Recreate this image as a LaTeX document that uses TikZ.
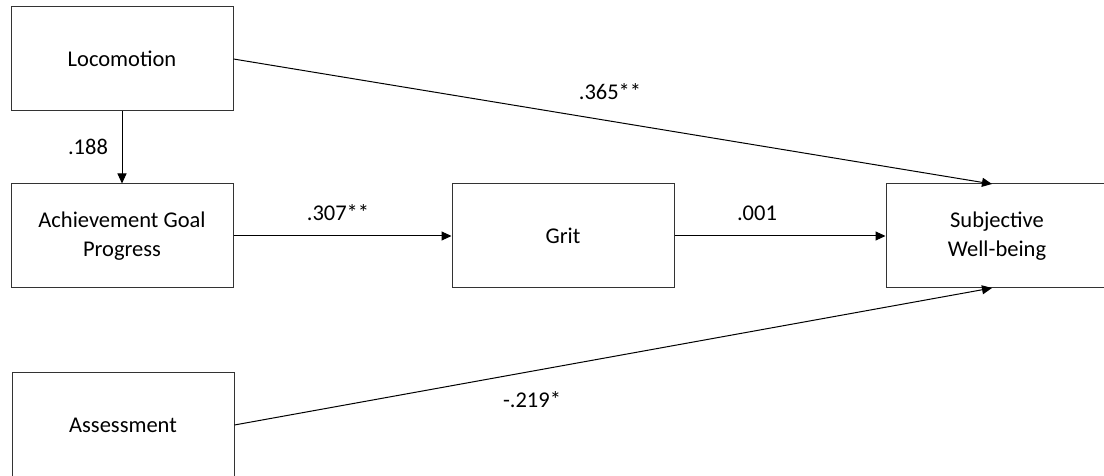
\documentclass[tikz,border=0pt]{standalone}
\usepackage{fontspec}
\setmainfont{Carlito}
\usetikzlibrary{arrows.meta}
\begin{document}
\begin{tikzpicture}[x=1pt,y=1pt,
  box/.style={draw=black!80,line width=1pt,minimum width=222pt,minimum height=104pt,inner sep=0pt,align=center,font=\fontsize{22.5}{29}\selectfont},
  conn/.style={line width=1pt,-{Triangle[length=10pt,width=9pt]}},
  lbl/.style={font=\fontsize{22.5}{27}\selectfont}]
\useasboundingbox (0,0) rectangle (1104,476);
\node[box] (loc) at (122,417) {Locomotion};
\node[box] (agp) at (122,240) {Achievement Goal\\Progress};
\node[box] (grit) at (563,240) {Grit};
\node[box] (swb) at (997,240) {Subjective\\Well-being};
\node[box] (ass) at (123,51) {Assessment};
\coordinate (swbtop) at (992,292);
\coordinate (swbbot) at (992,188);
\draw[conn] (loc.south) -- (agp.north);
\draw[conn] (loc.east) -- (swbtop);
\draw[conn] (agp.east) -- (grit.west);
\draw[conn] (grit.east) -- (swb.west);
\draw[conn] (ass.east) -- (swbbot);
\node[lbl] (l188) at (88,329) {.188};
\node[lbl] (l365) at (610,384) {.365**};
\node[lbl] (l307) at (338,263) {.307**};
\node[lbl] (l001) at (757,263) {.001};
\node[lbl] (l219) at (532,76) {-.219*};
\end{tikzpicture}
\end{document}
